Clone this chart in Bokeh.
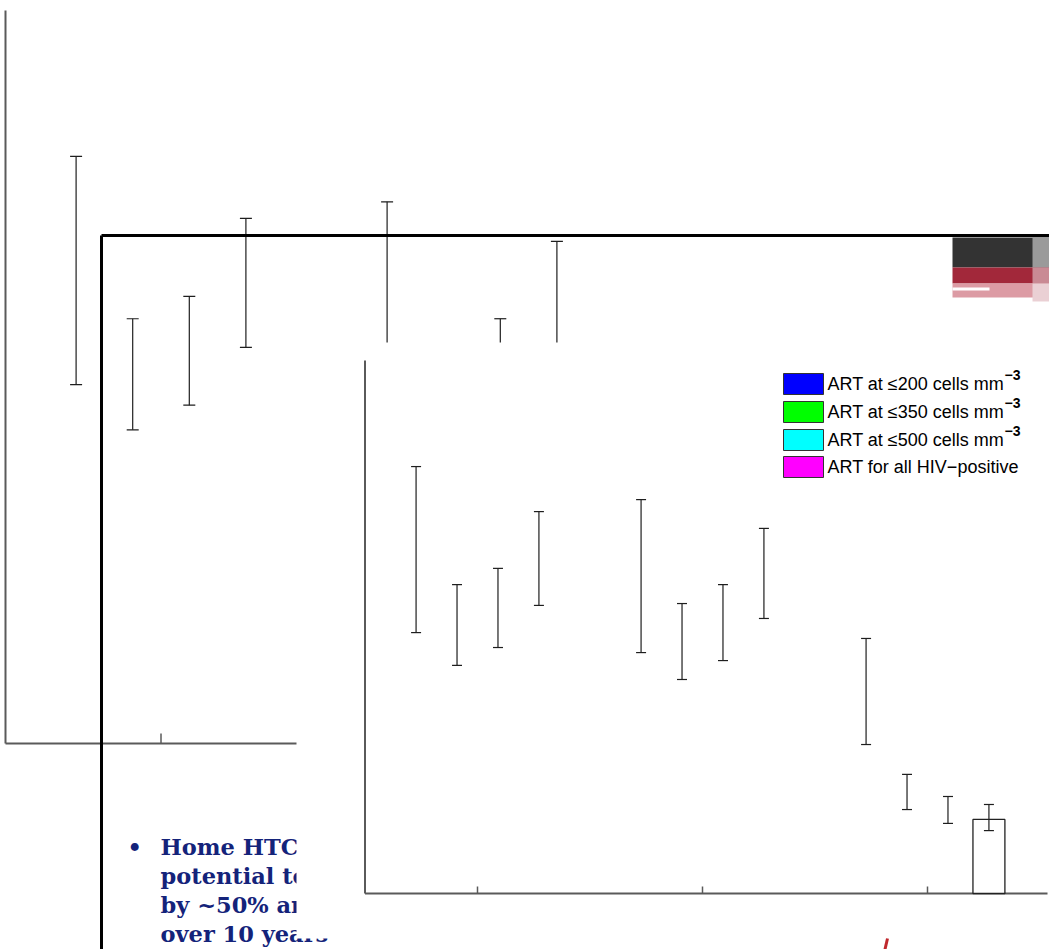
from bokeh.plotting import figure
from bokeh.models import Range1d
from bokeh.core.properties import value
from bokeh.embed import file_html
from bokeh.resources import INLINE

# ---------------- data ----------------
groups = [1, 2, 3]
series_labels = ["ART at \u2264200 cells mm", "ART at \u2264350 cells mm",
                 "ART at \u2264500 cells mm", "ART for all HIV\u2212positive"]
series_superscripts = ["\u22123", "\u22123", "\u22123", ""]
series_colors = ["#0000ff", "#00ff00", "#00ffff", "#ff00ff"]
series_offsets = [-0.273, -0.091, 0.091, 0.273]
ci_upper = [[1.602, 1.478, 0.957],
            [1.159, 1.088, 0.447],
            [1.220, 1.159, 0.364],
            [1.433, 1.370, 0.334]]
ci_lower = [[0.979, 0.904, 0.559],
            [0.856, 0.803, 0.315],
            [0.923, 0.874, 0.263],
            [1.081, 1.032, 0.236]]
bar_group = [3]
bar_series = [3]
bar_height = [0.278]
bullet_lines = ["Home HTC has the", "potential to reduce", "by ~50% and", "over 10 years"]

# ---------------- layout ----------------
W, H = 1049, 949
OFF = 0
X0, X1 = 0.5, 3.5
Y0, Y1 = 0.0, 2.0
FRONT = dict(left=364.5, right=1039.5, bottom=893, top=360)
BACK = dict(left=5, right=938, bottom=743, top=10)
TXT_SHIFT = -7  # baseline correction

p = figure(width=W, height=H, output_backend="svg", toolbar_location=None,
           x_range=Range1d(OFF, OFF + W), y_range=Range1d(OFF + H, OFF),
           min_border=0, outline_line_color=None,
           styles={"position": "absolute", "left": "0px", "top": "0px"})
p.axis.visible = False
p.grid.visible = False
p.background_fill_color = "white"
p.border_fill_color = "white"


def add_ranges(name, box):
    sx = (box["right"] - box["left"]) / (X1 - X0)
    sy = (box["bottom"] - box["top"]) / (Y1 - Y0)
    p.extra_x_ranges[name] = Range1d(X0 + (OFF - box["left"]) / sx,
                                     X0 + (OFF + W - box["left"]) / sx)
    p.extra_y_ranges[name] = Range1d(Y0 - (OFF + H - box["bottom"]) / sy,
                                     Y0 + (box["bottom"] - OFF) / sy)
    return sx, sy


def draw_chart(name, box, cap_px, tick_px, axis_extra_px, draw_bars):
    sx, sy = add_ranges(name, box)
    kw = dict(x_range_name=name, y_range_name=name)
    ax_col = "#5a5a5a"
    # axes
    p.segment(x0=[X0], y0=[Y0], x1=[X0], y1=[Y1], line_color=ax_col, line_width=2, **kw)
    p.segment(x0=[X0], y0=[Y0], x1=[X1 + axis_extra_px / sx], y1=[Y0],
              line_color=ax_col, line_width=2, **kw)
    p.segment(x0=groups, y0=[Y0] * len(groups), x1=groups,
              y1=[tick_px / sy] * len(groups), line_color=ax_col, line_width=1.5, **kw)
    # bars
    if draw_bars:
        bw = 0.142
        bx = [bar_group[i] + series_offsets[bar_series[i]] for i in range(len(bar_group))]
        p.quad(left=[x - bw / 2 for x in bx], right=[x + bw / 2 for x in bx],
               bottom=[0] * len(bx), top=bar_height, fill_color="white",
               line_color="#222222", line_width=1.3, **kw)
    # error bars
    cw = cap_px / 2 / sx
    for s in range(len(series_offsets)):
        xs = [g + series_offsets[s] for g in groups]
        p.segment(x0=xs, y0=ci_lower[s], x1=xs, y1=ci_upper[s],
                  line_color="#1e1e1e", line_width=1.2, **kw)
        p.segment(x0=[x - cw for x in xs], y0=ci_upper[s], x1=[x + cw for x in xs],
                  y1=ci_upper[s], line_color="#1e1e1e", line_width=1.2, **kw)
        p.segment(x0=[x - cw for x in xs], y0=ci_lower[s], x1=[x + cw for x in xs],
                  y1=ci_lower[s], line_color="#1e1e1e", line_width=1.2, **kw)


# back (enlarged, partially hidden) copy of the chart
draw_chart("back", BACK, 12, 10, 0, False)

# thick slide frame
p.segment(x0=[101, 101], y0=[235, 235], x1=[101, W + 5], y1=[H + 5, 235],
          line_color="black", line_width=3)

# bullet text (partly hidden)
p.text(x=[127], y=[853 + TXT_SHIFT], text=["\u2022"], text_font=value("DejaVu Serif"),
       text_font_size="22.5px", text_font_style="bold", text_color="#14237a",
       text_baseline="alphabetic")
p.text(x=[160] * 4, y=[v + TXT_SHIFT for v in [853, 882, 911, 940]], text=bullet_lines,
       text_font=value("DejaVu Serif"), text_font_size="22.5px",
       text_font_style="bold", text_color="#14237a", text_baseline="alphabetic")

# white panel of the front chart
p.quad(left=[296], right=[W + 5], top=[342], bottom=[938],
       fill_color="white", line_color=None)

# front chart
draw_chart("front", FRONT, 10, 7, 7.5, True)

# legend
leg_top = [373, 401, 429, 456]
for i, lab in enumerate(series_labels):
    t = leg_top[i]
    p.quad(left=[783], right=[823], top=[t], bottom=[t + 21],
           fill_color=series_colors[i], line_color="#333333", line_width=1)
    p.text(x=[827], y=[t + 17 + TXT_SHIFT], text=[lab], text_font=value("Liberation Sans"),
           text_font_size="18px", text_color="black", text_baseline="alphabetic")
    if series_superscripts[i]:
        p.text(x=[1004], y=[t + 8 + TXT_SHIFT], text=[series_superscripts[i]],
               text_font=value("Liberation Sans"), text_font_size="14px",
               text_font_style="bold", text_color="black", text_baseline="alphabetic")

# logo in the corner
p.quad(left=[952, 952, 952], right=[W + 5] * 3, top=[237, 267, 283], bottom=[267, 283, 297],
       fill_color=["#333333", "#a2283a", "#dc9ba4"], line_color=None)
p.quad(left=[1032, 1032, 1032], right=[W + 5] * 3, top=[237, 267, 283], bottom=[267, 283, 301],
       fill_color=["#9a9a9a", "#c98a94", "#ead0d4"], line_color=None)
p.quad(left=[952], right=[989], top=[287], bottom=[290], fill_color="white", line_color=None)

# small red mark at the bottom
p.segment(x0=[887], y0=[938], x1=[884], y1=[H + 2], line_color="#c0282d", line_width=3)

open("out.html", "w").write(file_html(p, INLINE))
